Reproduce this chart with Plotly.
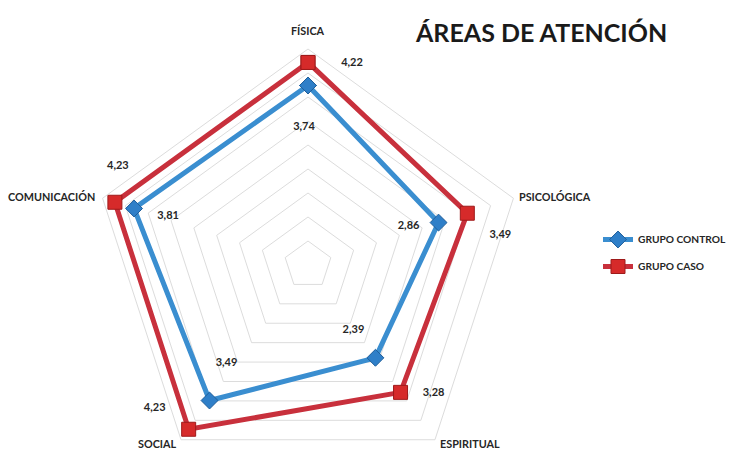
import math
import plotly.graph_objects as go

# ---- data ----
categories = ["FÍSICA", "PSICOLÓGICA", "ESPIRITUAL", "SOCIAL", "COMUNICACIÓN"]
control = [3.74, 2.86, 2.39, 3.49, 3.81]
caso = [4.22, 3.49, 3.28, 4.23, 4.23]
control_labels = ["3,74", "2,86", "2,39", "3,49", "3,81"]
caso_labels = ["4,22", "3,49", "3,28", "4,23", "4,23"]
series_names = ["GRUPO CONTROL", "GRUPO CASO"]
title_text = "ÁREAS DE ATENCIÓN"

# ---- style / layout ----
W, H = 739, 481
CX, CY, R = 308, 265, 216          # pixel centre and radius of the radar
RMAX = 4.5
SCALE = R / RMAX                   # px per unit
BLUE = "#3A8ED0"
RED = "#C8303C"
FONT = "Lato"

# label offsets (px right, px down) from each marker / outer vertex
control_off = [(-4, 42), (-30, 4), (-22, -28), (17, -37), (34, 8)]
caso_off = [(44, 1), (33, 22), (33, 1), (-34, -21), (3, -36)]
cat_off = [(0, -18), (42, -2), (35, 4), (-24, 4), (-51, -2)]

dom_x = [(CX - R) / W, (CX + R) / W]
dom_y = [(H - (CY + R)) / H, (H - (CY - R)) / H]


def label_polar(values, offs):
    rs, ths = [], []
    n = len(values)
    for i, (v, (dx, dy)) in enumerate(zip(values, offs)):
        phi = math.radians(360 * i / n)
        x = v * math.sin(phi) + dx / SCALE
        y = v * math.cos(phi) - dy / SCALE
        rs.append(math.hypot(x, y))
        ths.append(math.degrees(math.atan2(x, y)) % 360)
    return rs, ths


fig = go.Figure()

fig.add_trace(go.Scatterpolar(
    r=control + control[:1], theta=categories + categories[:1],
    mode="lines+markers", name=series_names[0], legendgroup="a",
    line=dict(color=BLUE, width=5),
    marker=dict(symbol="diamond", size=13, color="#2F7FC8",
                line=dict(color="#1F5E9A", width=1)),
    subplot="polar"))
fig.add_trace(go.Scatterpolar(
    r=caso + caso[:1], theta=categories + categories[:1],
    mode="lines+markers", name=series_names[1], legendgroup="b",
    line=dict(color=RED, width=5),
    marker=dict(symbol="square", size=14, color="#D62A2A",
                line=dict(color="#9E1A1A", width=1)),
    subplot="polar"))

for vals, offs, texts in [(control, control_off, control_labels),
                          (caso, caso_off, caso_labels)]:
    rr, tt = label_polar(vals, offs)
    fig.add_trace(go.Scatterpolar(
        r=rr, theta=tt, mode="text", text=texts,
        textfont=dict(family=FONT, size=11, color="#262626", weight="bold"),
        showlegend=False, hoverinfo="skip", subplot="polar2"))

# category labels around the outer ring (paper coords from ring geometry)
annotations = [dict(text=title_text, xref="paper", yref="paper",
                    x=541 / W, y=(H - 32) / H, xanchor="center",
                    yanchor="middle", showarrow=False,
                    font=dict(family=FONT, size=25, color="#1A1A1A",
                              weight="bold"))]
n = len(categories)
for i, (name, (dx, dy)) in enumerate(zip(categories, cat_off)):
    phi = math.radians(360 * i / n)
    px = CX + R * math.sin(phi) + dx
    py = CY - R * math.cos(phi) + dy
    annotations.append(dict(text=name, xref="paper", yref="paper",
                            x=px / W, y=(H - py) / H, xanchor="center",
                            yanchor="middle", showarrow=False,
                            font=dict(family=FONT, size=10.8, color="#262626",
                                      weight="bold")))

fig.update_layout(
    width=W, height=H,
    margin=dict(l=0, r=0, t=0, b=0),
    paper_bgcolor="white",
    showlegend=True,
    polar=dict(
        domain=dict(x=dom_x, y=dom_y),
        bgcolor="rgba(0,0,0,0)",
        gridshape="linear",
        radialaxis=dict(range=[0, RMAX], dtick=0.5, showticklabels=False,
                        ticks="", showline=False, gridcolor="#DCDCDC",
                        gridwidth=1),
        angularaxis=dict(rotation=90, direction="clockwise", showgrid=False,
                         showline=True, linecolor="#DCDCDC", linewidth=1,
                         ticks="", showticklabels=False),
    ),
    polar2=dict(
        domain=dict(x=dom_x, y=dom_y),
        bgcolor="rgba(0,0,0,0)",
        radialaxis=dict(range=[0, RMAX], visible=False),
        angularaxis=dict(rotation=90, direction="clockwise", visible=False),
    ),
    legend=dict(x=598 / W, y=(H - 253) / H, xanchor="left", yanchor="middle",
                font=dict(family=FONT, size=10.2, color="#262626",
                          weight="bold"),
                itemwidth=30, tracegroupgap=8, bgcolor="rgba(0,0,0,0)"),
    annotations=annotations,
)

fig.write_html("out.html",
               post_script="document.documentElement.style.overflow='hidden';"
                           "document.body.style.overflow='hidden';")
